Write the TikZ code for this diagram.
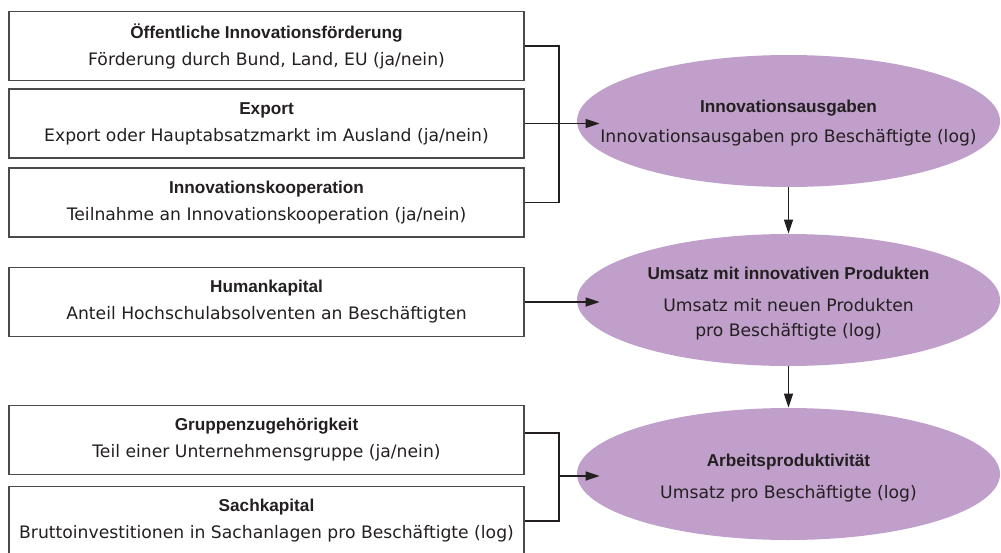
\documentclass[tikz,border=0pt]{standalone}
\usepackage{fontspec}
\setmainfont{DejaVu Sans}
\newfontfamily\headfont{Liberation Sans}
\usepackage{xcolor}
\usetikzlibrary{arrows.meta,positioning,shapes.geometric}
\definecolor{ink}{HTML}{231F20}
\definecolor{boxgray}{HTML}{4A4A4A}
\definecolor{lila}{HTML}{C0A0CB}
\newcommand{\boxhead}[1]{{\headfont\bfseries #1}}

\begin{document}
\begin{tikzpicture}[x=0.5pt, y=-0.5pt,
  var/.style={draw=boxgray, line width=0.65pt, minimum width=257.5pt,
    minimum height=34.5pt, inner sep=0pt, align=center, text=ink,
    font=\fontsize{8.6}{13.5}\selectfont},
  target/.style={ellipse, fill=lila, minimum width=211.5pt,
    minimum height=66pt, inner sep=0pt},
  caption/.style={align=center, text=ink, inner sep=0pt,
    font=\fontsize{8.6}{12.5}\selectfont},
  link/.style={line width=0.75pt, draw=ink},
  into/.style={link, -{Triangle[length=7pt,width=4.5pt]}},
  deep/.style={into, shorten >=-11.5pt}
]
\clip (0,0) rectangle (1001,552);

% Outcomes
\node[target] (ausgaben) at (788.5,121) {};
\node[caption] (ausgabenT) at ([yshift=-1pt]ausgaben.center)
  {\boxhead{Innovationsausgaben}\\[2.5pt]
   Innovationsausgaben pro Beschäftigte (log)};
\node[target] (umsatz) at (788.5,300) {};
\node[caption] (umsatzT) at ([yshift=-2pt]umsatz.center)
  {\boxhead{Umsatz mit innovativen Produkten}\\[3.5pt]
   Umsatz mit neuen Produkten\\pro Beschäftigte (log)};
\node[target] (produkt) at (788.5,474) {};
\node[caption] (produktT) at ([yshift=-2pt]produkt.center)
  {\boxhead{Arbeitsproduktivität}\\[3.5pt]
   Umsatz pro Beschäftigte (log)};

% Determinants of innovation spending
\node[var] (foerd) at (266.5,46)
  {\boxhead{Öffentliche Innovationsförderung}\\
   Förderung durch Bund, Land, EU (ja/nein)};
\node[var] (export) at (266.5,123.5)
  {\boxhead{Export}\\
   Export oder Hauptabsatzmarkt im Ausland (ja/nein)};
\node[var] (koop) at (266.5,202.5)
  {\boxhead{Innovationskooperation}\\
   Teilnahme an Innovationskooperation (ja/nein)};

% Human capital
\node[var] (human) at (266.5,302)
  {\boxhead{Humankapital}\\
   Anteil Hochschulabsolventen an Beschäftigten};

% Determinants of productivity
\node[var] (gruppe) at (266.5,440)
  {\boxhead{Gruppenzugehörigkeit}\\
   Teil einer Unternehmensgruppe (ja/nein)};
\node[var] (sach) at (266.5,521)
  {\boxhead{Sachkapital}\\
   Bruttoinvestitionen in Sachanlagen pro Beschäftigte (log)};

% Brackets
\coordinate (joinA) at (559,123.5);
\coordinate (joinB) at (559,476);
\draw[link] (foerd.east) -| (joinA);
\draw[link] (koop.east) -| (joinA);
\draw[deep] (export.east) -- (export.east -| ausgaben.west);
\draw[link] ([yshift=3.5pt]gruppe.east) -| (joinB);
\draw[link] (sach.east) -| (joinB);
\draw[deep] (joinB) -- (joinB -| produkt.west);
\draw[deep] (human.east) -- (human.east -| umsatz.west);

% Chain
\draw[into] (ausgaben.south) -- (umsatz.north);
\draw[into] (umsatz.south) -- (produkt.north);

\end{tikzpicture}
\end{document}
